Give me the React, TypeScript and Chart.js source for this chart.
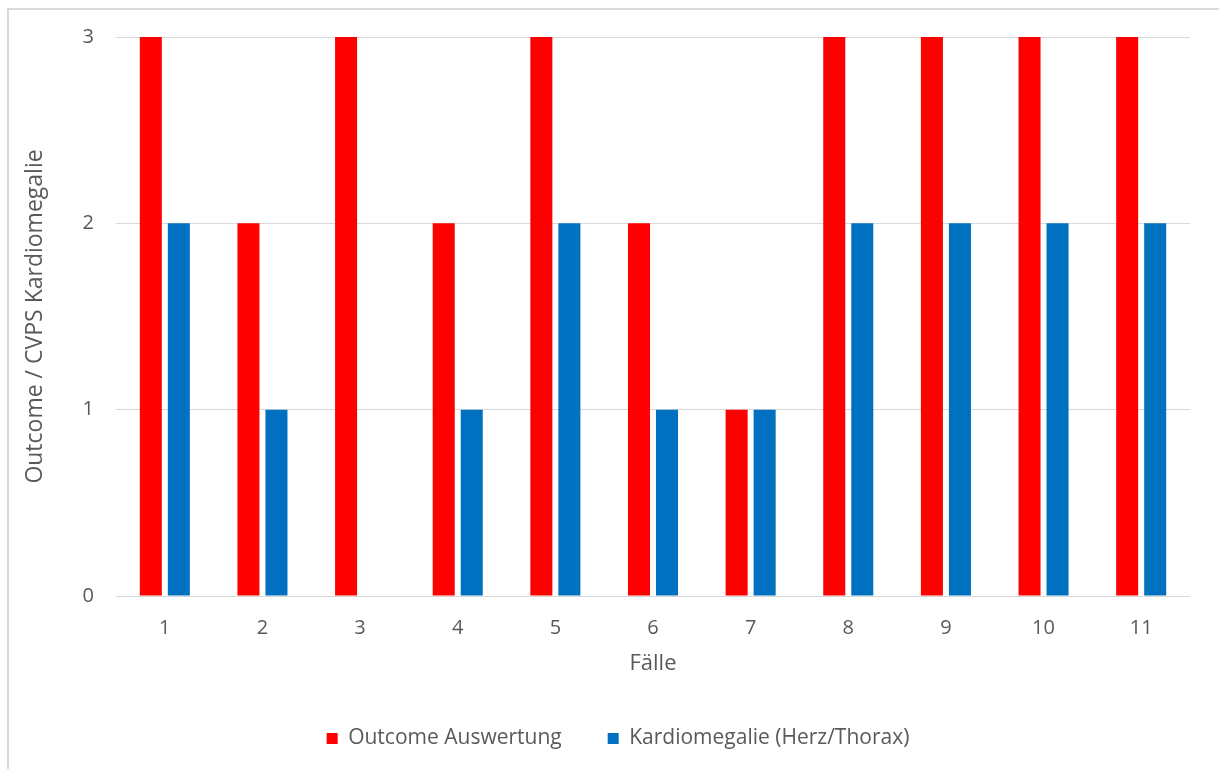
import React, { useEffect, useRef } from "react";
import { Chart, registerables } from "chart.js";

Chart.register(...registerables);

const categories = ["1", "2", "3", "4", "5", "6", "7", "8", "9", "10", "11"];
const outcomeValues = [3, 2, 3, 2, 3, 2, 1, 3, 3, 3, 3];
const kardioValues = [2, 1, 0, 1, 2, 1, 1, 2, 2, 2, 2];
const seriesNames = ["Outcome Auswertung", "Kardiomegalie (Herz/Thorax)"];
const yTicks = [0, 1, 2, 3];

const FONT = "'Open Sans', 'Liberation Sans', sans-serif";
const TEXT = "#595959";

export default function App() {
  const ref = useRef<HTMLCanvasElement | null>(null);

  useEffect(() => {
    if (!ref.current) return;
    const chart = new Chart(ref.current, {
      type: "bar",
      data: {
        labels: categories,
        datasets: [
          {
            label: seriesNames[0],
            data: outcomeValues,
            backgroundColor: "#FF0000",
            categoryPercentage: 0.574,
            barPercentage: 0.786,
          },
          {
            label: seriesNames[1],
            data: kardioValues,
            backgroundColor: "#0070C0",
            categoryPercentage: 0.574,
            barPercentage: 0.786,
          },
        ],
      },
      options: {
        animation: false,
        responsive: false,
        maintainAspectRatio: false,
        layout: { padding: { left: 46, right: 29, top: 37, bottom: 10 } },
        plugins: {
          tooltip: { enabled: false },
          legend: {
            position: "bottom",
            labels: {
              color: TEXT,
              font: { family: FONT, size: 21 },
              boxWidth: 11,
              boxHeight: 11,
              padding: 46,
            },
          },
        },
        scales: {
          x: {
            grid: { display: false, drawTicks: false },
            border: { display: false },
            ticks: { color: TEXT, font: { family: FONT, size: 20 }, padding: 20 },
            title: {
              display: true,
              text: "Fälle",
              color: TEXT,
              font: { family: FONT, size: 22 },
              padding: { top: 4, bottom: 5 },
            },
            afterFit: (s: any) => {
              s.height = 86;
            },
          },
          y: {
            min: 0,
            max: 3,
            afterBuildTicks: (s: any) => {
              s.ticks = yTicks.map((v) => ({ value: v }));
            },
            grid: { color: "#d9d9d9", lineWidth: 1, drawTicks: false },
            border: { display: false },
            ticks: { color: TEXT, font: { family: FONT, size: 20 }, padding: 22 },
            title: {
              display: true,
              text: "Outcome / CVPS Kardiomegalie",
              color: TEXT,
              font: { family: FONT, size: 23 },
              padding: { top: -24, bottom: 0 },
            },
            afterFit: (s: any) => {
              s.width = 70;
            },
          },
        },
      },
    });
    return () => chart.destroy();
  }, []);

  return (
    <div style={{ position: "fixed", left: 0, top: 0, width: 1219, height: 769, overflow: "hidden", background: "#fff" }}>
      <div
        style={{
          position: "absolute",
          left: 7,
          top: 8,
          width: 1300,
          height: 900,
          borderLeft: "2px solid #d9d9d9",
          borderTop: "2px solid #d9d9d9",
        }}
      />
      <canvas ref={ref} width={1219} height={769} style={{ position: "absolute", left: 0, top: 0 }} />
    </div>
  );
}
